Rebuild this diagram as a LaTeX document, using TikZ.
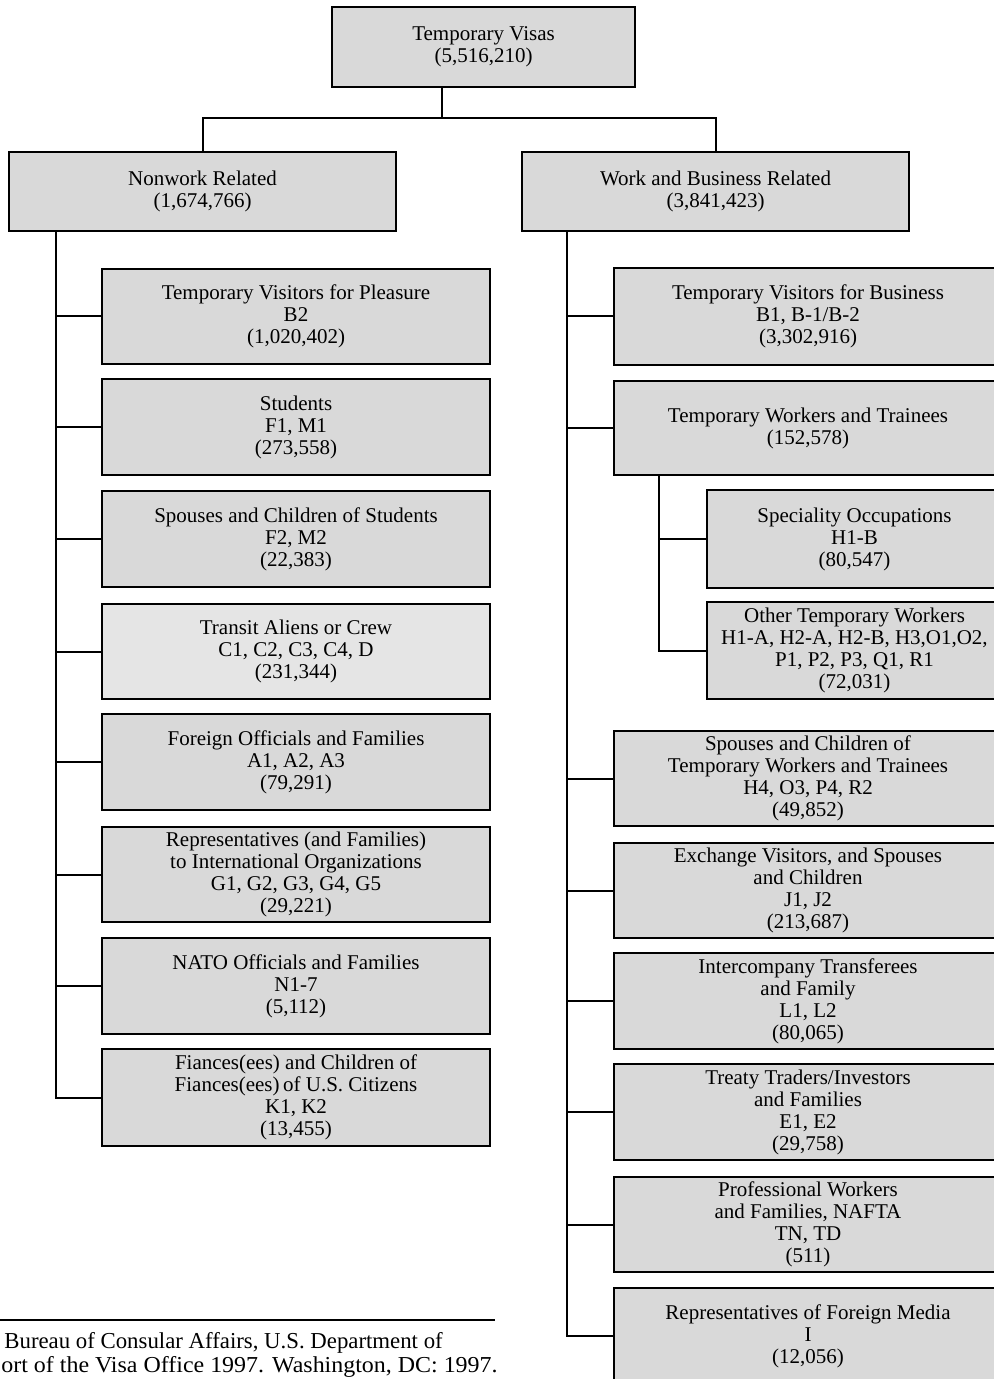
\documentclass[tikz,border=0pt]{standalone}
\usepackage{fontspec}
\setmainfont{Liberation Serif}
\begin{document}
\begin{tikzpicture}[x=0.5pt,y=-0.5pt,
  vbox/.style={draw=black, line width=1pt, fill=black!15, align=center, inner sep=0pt,
    font=\fontsize{10.5}{11}\selectfont},
  lightbox/.style={vbox, fill=black!10},
  conn/.style={draw=black, line width=1pt},
  foot/.style={font=\fontsize{11.4}{12}\selectfont, inner sep=0pt}]
\useasboundingbox (0,0) rectangle (993,1379);
\newcommand\bx[7]{%
  \node[#6, minimum width={(#4-#2)*0.5pt}, minimum height={(#5-#3)*0.5pt}] (#1) at ({(#2+#4)/2},{(#3+#5)/2}) {#7};}
% top levels
\bx{top}{332}{7}{635}{87}{vbox}{Temporary Visas\\(5,516,210)}
\bx{nonwork}{9}{152}{396}{231}{vbox}{Nonwork Related\\(1,674,766)}
\bx{work}{522}{152}{909}{231}{vbox}{Work and Business Related\\(3,841,423)}
% left children
\bx{l1}{102}{269}{490}{364}{vbox}{Temporary Visitors for Pleasure\\B2\\(1,020,402)}
\bx{l2}{102}{379}{490}{475}{vbox}{Students\\F1, M1\\(273,558)}
\bx{l3}{102}{491}{490}{587}{vbox}{Spouses and Children of Students\\F2, M2\\(22,383)}
\bx{l4}{102}{604}{490}{699}{lightbox}{Transit Aliens or Crew\\C1, C2, C3, C4, D\\(231,344)}
\bx{l5}{102}{714}{490}{810}{vbox}{Foreign Officials and Families\\A1, A2, A3\\(79,291)}
\bx{l6}{102}{827}{490}{922}{vbox}{Representatives (and Families)\\to International Organizations\\G1, G2, G3, G4, G5\\(29,221)}
\bx{l7}{102}{938}{490}{1034}{vbox}{NATO Officials and Families\\N1-7\\(5,112)}
\bx{l8}{102}{1049}{490}{1146}{vbox}{Fiances(ees) and Children of\\Fiances(ees)\,of U.S. Citizens\\K1, K2\\(13,455)}
% right children
\bx{r1}{614}{268}{1002}{365}{vbox}{Temporary Visitors for Business\\B1, B-1/B-2\\(3,302,916)}
\bx{r2}{614}{381}{1002}{475}{vbox}{Temporary Workers and Trainees\\(152,578)}
\bx{s1}{707}{490}{1002}{588}{vbox}{Speciality Occupations\\H1-B\\(80,547)}
\bx{s2}{707}{602}{1002}{699}{vbox}{Other Temporary Workers\\H1-A, H2-A, H2-B, H3,O1,O2,\\P1, P2, P3, Q1, R1\\(72,031)}
\bx{r3}{614}{731}{1002}{826}{vbox}{Spouses and Children of\\Temporary Workers and Trainees\\H4, O3, P4, R2\\(49,852)}
\bx{r4}{614}{843}{1002}{938}{vbox}{Exchange Visitors, and Spouses\\and Children\\J1, J2\\(213,687)}
\bx{r5}{614}{953}{1002}{1049}{vbox}{Intercompany Transferees\\and Family\\L1, L2\\(80,065)}
\bx{r6}{614}{1064}{1002}{1160}{vbox}{Treaty Traders/Investors\\and Families\\E1, E2\\(29,758)}
\bx{r7}{614}{1177}{1002}{1272}{vbox}{Professional Workers\\and Families, NAFTA\\TN, TD\\(511)}
\bx{r8}{614}{1288}{1002}{1384}{vbox}{Representatives of Foreign Media\\I\\(12,056)}
% connectors
\coordinate (j0) at (442,118);
\coordinate (ls) at (56,0);
\coordinate (rs) at (567,0);
\coordinate (ss) at (659,0);
\draw[conn] (top.south -| j0) -- (j0);
\draw[conn] (nonwork.north) |- (j0) -| (work.north);
\draw[conn] (nonwork.south -| ls) |- (l8.west);
\foreach \n in {l1,l2,l3,l4,l5,l6,l7} \draw[conn] (ls |- \n.west) -- (\n.west);
\draw[conn] (work.south -| rs) |- (r8.west);
\foreach \n in {r1,r2,r3,r4,r5,r6,r7} \draw[conn] (rs |- \n.west) -- (\n.west);
\draw[conn] (r2.south -| ss) |- (s2.west);
\draw[conn] (ss |- s1.west) -- (s1.west);
% footnote
\coordinate (fr) at (495,1320);
\draw[line width=1.2pt] (0,1320) -- (fr);
\node[foot, anchor=base west] (f1) at (4,1348) {Bureau of Consular Affairs, U.S. Department of};
\node[foot, anchor=base east] (f2) at (498,1372) {\addfontfeature{FakeStretch=1.05}ort of the Visa Office 1997. Washington, DC: 1997.};
\end{tikzpicture}
\end{document}
